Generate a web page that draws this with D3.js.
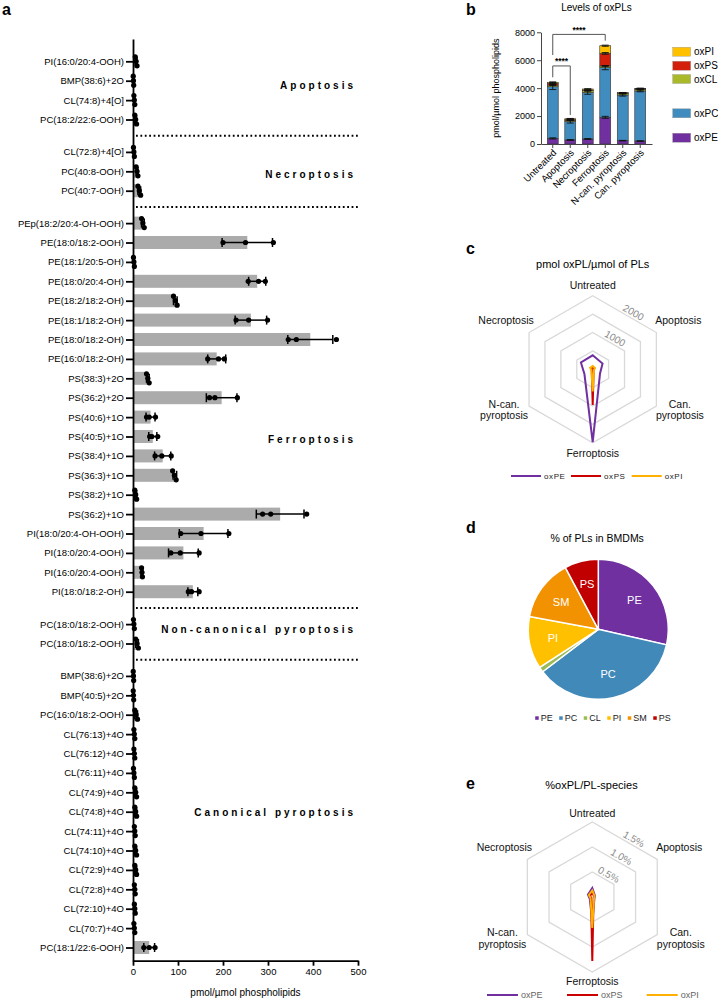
<!DOCTYPE html>
<html><head><meta charset="utf-8">
<script src="https://cdn.jsdelivr.net/npm/d3@7"></script>
<style>
body{margin:0;background:#fff;}
svg{display:block;}
</style></head><body>
<svg id="fig" width="718" height="999"></svg>
<script>
// ================= DATA =================
// Panel a
const groupsA = ["Apoptosis","Necroptosis","Ferroptosis","Non-canonical pyroptosis","Canonical pyroptosis"];
const groupSizesA = [4,3,20,2,15];
const labelsA = [
 "PI(16:0/20:4-OOH)","BMP(38:6)+2O","CL(74:8)+4[O]","PC(18:2/22:6-OOH)",
 "CL(72:8)+4[O]","PC(40:8-OOH)","PC(40:7-OOH)",
 "PEp(18:2/20:4-OH-OOH)","PE(18:0/18:2-OOH)","PE(18:1/20:5-OH)","PE(18:0/20:4-OH)","PE(18:2/18:2-OH)",
 "PE(18:1/18:2-OH)","PE(18:0/18:2-OH)","PE(16:0/18:2-OH)","PS(38:3)+2O","PS(36:2)+2O","PS(40:6)+1O",
 "PS(40:5)+1O","PS(38:4)+1O","PS(36:3)+1O","PS(38:2)+1O","PS(36:2)+1O","PI(18:0/20:4-OH-OOH)",
 "PI(18:0/20:4-OOH)","PI(16:0/20:4-OOH)","PI(18:0/18:2-OH)",
 "PC(18:0/18:2-OOH)","PC(18:0/18:2-OOH)",
 "BMP(38:6)+2O","BMP(40:5)+2O","PC(16:0/18:2-OOH)","CL(76:13)+4O","CL(76:12)+4O","CL(76:11)+4O",
 "CL(74:9)+4O","CL(74:8)+4O","CL(74:11)+4O","CL(74:10)+4O","CL(72:9)+4O","CL(72:8)+4O","CL(72:10)+4O",
 "CL(70:7)+4O","PC(18:1/22:6-OOH)"
];
const meansA = [7,1,3,6, 2,9,14, 22,254,2,276,94,262,394,186,33,197,39,44,66,93,6,327,157,112,20,133, 2,9,
 1,1,7,3,3,2,6,6,4,6,6,4,4,3,36];
const sdsA = [2,0.5,1,2, 1,2,3, 3,56,1,19,4,35,50,20,3,34,10,9,18,4,2,53,54,33,2,11, 1,3,
 0.5,0.5,3,1,1,1,2,2,1,2,2,1,1,1,12];
const pointsA = [
 [5,7,9],[0.5,1,1.5],[2,3,4],[4,6,8],
 [1,2,3],[7,9,11],[11,14,17],
 [19,22,25],[200,250,312],[1,2,3],[256,279,294],[90,94,98],[229,257,299],[345,363,452],[166,190,203],
 [30,33,36],[170,182,232],[30,36,50],[37,42,55],[49,64,85],[88,92,96],[4,6,8],[288,306,386],
 [106,151,213],[84,105,147],[19,20,21],[123,130,147],
 [1,2,3],[6,9,12],
 [0.5,1,1.5],[0.5,1,1.5],[4,7,10],[2,3,4],[2,3,4],[1,2,3],[4,6,8],[4,6,8],[3,4,5],[4,6,8],[4,6,8],
 [3,4,5],[3,4,5],[2,3,4],[24,36,49]
];
const ticksA = [0,100,200,300,400,500];

// Panel b
const catsB = ["Untreated","Apoptosis","Necroptosis","Ferroptosis","N-can. pyroptosis","Can. pyroptosis"];
const keysB = ["oxPE","oxPC","oxCL","oxPS","oxPI"];
const oxPE_B = [400, 290, 360, 1910, 240, 215];
const oxPC_B = [3700, 1310, 3320, 3560, 3270, 3585];
const oxCL_B = [120, 100, 140, 120, 100, 120];
const oxPS_B = [120, 50, 40, 900, 30, 30];
const oxPI_B = [80, 60, 80, 550, 40, 40];
const sdPE_B = [40, 30, 30, 70, 20, 20];
const sdPC_B = [200, 100, 120, 150, 80, 60];
const sdCL_B = [30, 20, 30, 30, 20, 20];
const sdPS_B = [40, 20, 10, 60, 10, 10];
const sdPI_B = [30, 20, 20, 40, 10, 10];
const ticksB = [0,2000,4000,6000,8000];
const sigB = [
  {a:"Untreated", b:"Ferroptosis", level:7850, legA:6370, legB:7400, label:"****"},
  {a:"Untreated", b:"Apoptosis", level:5590, legA:4780, legB:2080, label:"****"}
];

// Panel c (radar order: Untreated, Apoptosis, Can. pyroptosis, Ferroptosis, N-can. pyroptosis, Necroptosis)
const catsRadar = [["Untreated"],["Apoptosis"],["Can.","pyroptosis"],["Ferroptosis"],["N-can.","pyroptosis"],["Necroptosis"]];
const oxPE_C = [380, 310, 230, 1980, 260, 370];
const oxPS_C = [60, 50, 30, 970, 30, 40];
const oxPI_C = [90, 70, 40, 600, 40, 80];
const ringsC = [500, 1000, 1500, 2000];
const ringLabelsC = [1000, 2000];

// Panel d
const catsD = ["PE","PC","CL","PI","SM","PS"];
const pctD = [28.6, 36.1, 1.2, 12.1, 14.3, 7.8];

// Panel e
const oxPE_E = [0.18, 0.06, 0.05, 0.50, 0.06, 0.10];
const oxPS_E = [0.08, 0.04, 0.03, 1.28, 0.03, 0.05];
const oxPI_E = [0.13, 0.05, 0.04, 0.62, 0.04, 0.08];
const ringsE = [0.5, 1.0, 1.5];
const ringLabelsE = [0.5, 1.0, 1.5];

// ================= STYLE =================
const FONT = "'Liberation Sans', Arial, Helvetica, sans-serif";
const colB = {oxPE:"#7030a0", oxPC:"#418cbf", oxCL:"#a9b92a", oxPS:"#d2200c", oxPI:"#ffc000"};
const colD = {PE:"#7030a0", PC:"#4189b9", CL:"#9bbb59", PI:"#ffc000", SM:"#f39200", PS:"#c00000"};
const colR = {oxPE:"#7030a0", oxPS:"#cc0000", oxPI:"#ffb000"};

const svg = d3.select("#fig").style("font-family", FONT);
svg.append("rect").attr("width",718).attr("height",999).attr("fill","#fff");

// panel letters
[["a",2,15],["b",466,15],["c",466,254],["d",466,533],["e",466,789]].forEach(([t,x,y])=>
  svg.append("text").attr("x",x).attr("y",y).style("font-size","16px").attr("font-weight","bold").text(t));

function fixAxis(ax, fs, col, sw){
  ax.attr("font-family",null).attr("font-size",null);
  ax.selectAll("path,line").attr("stroke",col).attr("stroke-width",sw);
  ax.selectAll("text").attr("fill","#000").style("font-size",fs+"px").style("font-family",FONT);
}

// ================= PANEL a =================
(function(){
  const gapA = 0.67;
  const slots = []; let idx = 0;
  groupSizesA.forEach((n,g)=>{ for(let k=0;k<n;k++){ slots.push(idx + g*gapA); idx++; } });
  const last = slots[slots.length-1];
  const yA = d3.scaleLinear().domain([-1.15, last+0.68]).range([39, 960.7]);
  const xA = d3.scaleLinear().domain([0,500]).range([133, 358]);
  const g = svg.append("g");
  const bh = 13;

  g.selectAll("rect.bar").data(meansA).join("rect")
    .attr("x", xA(0)).attr("y",(d,i)=>yA(slots[i])-bh/2)
    .attr("width",d=>xA(d)-xA(0)).attr("height",bh).attr("fill","#ababab");

  meansA.forEach((m,i)=>{
    const y = yA(slots[i]);
    const x0 = xA(Math.max(0,m-sdsA[i])), x1 = xA(m+sdsA[i]);
    g.append("line").attr("x1",x0).attr("x2",x1).attr("y1",y).attr("y2",y).attr("stroke","#000").attr("stroke-width",1.5);
    [x0,x1].forEach(x=>g.append("line").attr("x1",x).attr("x2",x).attr("y1",y-4.5).attr("y2",y+4.5).attr("stroke","#000").attr("stroke-width",1.5));
    const pts = pointsA[i];
    const px = pts.map(v=>xA(v));
    const clustered = d3.max(px)-d3.min(px) < 6;
    pts.forEach((v,k)=>{
      const dy = clustered ? (k-1)*4.5 : 0;
      g.append("circle").attr("cx",xA(v)).attr("cy",y+dy).attr("r",2.6).attr("fill","#000");
    });
  });

  let start = 0;
  groupSizesA.forEach((n,gi)=>{
    if(gi < groupSizesA.length-1){
      const s = (slots[start+n-1] + slots[start+n])/2;
      g.append("line").attr("x1",xA(0)+3).attr("x2",xA(500)).attr("y1",yA(s)).attr("y2",yA(s))
        .attr("stroke","#000").attr("stroke-width",2).attr("stroke-dasharray","1.8,2.6");
    }
    start += n;
  });

  const labelShift = [-0.23, 0.14, 1.64, -0.2, 0.03];
  start = 0;
  groupSizesA.forEach((n,gi)=>{
    const mid = (slots[start] + slots[start+n-1])/2 + labelShift[gi];
    g.append("text").attr("x",xA(500)-2).attr("y",yA(mid)).attr("dy","0.35em")
      .attr("text-anchor","end").style("font-size","10px").attr("font-weight","bold")
      .attr("letter-spacing","3px").text(groupsA[gi]);
    start += n;
  });

  const ay = g.append("g").attr("transform",`translate(${xA(0)},0)`)
    .call(d3.axisLeft(yA).tickValues(slots).tickFormat((d,i)=>labelsA[i]).tickSize(7).tickSizeOuter(0).tickPadding(2));
  fixAxis(ay, 9.5, "#000", 1.8);

  const ax = g.append("g").attr("transform",`translate(0,${yA(last+0.68)})`)
    .call(d3.axisBottom(xA).tickValues(ticksA).tickSize(5).tickSizeOuter(0).tickPadding(3));
  fixAxis(ax, 9.5, "#000", 1.8);
  g.append("text").attr("x",(xA(0)+xA(500))/2).attr("y",996).attr("text-anchor","middle")
    .style("font-size","10px").text("pmol/µmol phospholipids");
})();

// ================= PANEL b =================
(function(){
  const g = svg.append("g");
  const tableB = catsB.map((c,i)=>({cat:c, oxPE:oxPE_B[i], oxPC:oxPC_B[i], oxCL:oxCL_B[i], oxPS:oxPS_B[i], oxPI:oxPI_B[i]}));
  const sdB = {oxPE:sdPE_B, oxPC:sdPC_B, oxCL:sdCL_B, oxPS:sdPS_B, oxPI:sdPI_B};
  const stackB = d3.stack().keys(keysB)(tableB);
  const xB = d3.scaleBand().domain(catsB).range([541, 652]).paddingInner(0.375).paddingOuter(0.36);
  const yB = d3.scaleLinear().domain([0,8000]).range([144, 32.3]);
  const bw = xB.bandwidth();

  stackB.forEach(layer=>{
    g.selectAll(null).data(layer).join("rect")
      .attr("x",d=>xB(d.data.cat)).attr("width",bw)
      .attr("y",d=>yB(d[1])).attr("height",d=>yB(d[0])-yB(d[1]))
      .attr("fill",colB[layer.key]).attr("stroke","#333").attr("stroke-width",0.6);
  });
  stackB.forEach(layer=>{
    layer.forEach((d,i)=>{
      const xc = xB(d.data.cat)+bw/2, sd = sdB[layer.key][i];
      const y0 = yB(d[1]-sd), y1 = yB(d[1]+sd);
      g.append("line").attr("x1",xc).attr("x2",xc).attr("y1",y0).attr("y2",y1).attr("stroke","#111").attr("stroke-width",0.9);
      [y0,y1].forEach(y=>g.append("line").attr("x1",xc-3.5).attr("x2",xc+3.5).attr("y1",y).attr("y2",y).attr("stroke","#111").attr("stroke-width",0.9));
    });
  });

  const ay = g.append("g").attr("transform","translate(541,0)")
    .call(d3.axisLeft(yB).tickValues(ticksB).tickFormat(d3.format("d")).tickSize(4).tickSizeOuter(0).tickPadding(2));
  fixAxis(ay, 9, "#444", 1);
  const ax = g.append("g").attr("transform","translate(0,144)")
    .call(d3.axisBottom(xB).tickSize(4).tickSizeOuter(0).tickFormat(""));
  ax.selectAll("path,line").attr("stroke","#444").attr("stroke-width",1);
  catsB.forEach(c=>{
    const xc = xB(c)+bw/2;
    g.append("text").attr("transform",`translate(${xc+2},${151}) rotate(-45)`)
      .attr("text-anchor","end").attr("dy","0.35em").style("font-size","9.5px").text(c);
  });
  g.append("text").attr("transform",`translate(499,${(yB(0)+yB(8000))/2}) rotate(-90)`)
    .attr("text-anchor","middle").style("font-size","9px").text("pmol/µmol phospholipids");
  g.append("text").attr("x",596.5).attr("y",11.3).attr("text-anchor","middle").style("font-size","10px").text("Levels of oxPLs");

  sigB.forEach(s=>{
    const xa = xB(s.a)+bw/2, xb = xB(s.b)+bw/2;
    g.append("path").attr("d",`M${xa},${yB(s.legA)}V${yB(s.level)}H${xb}V${yB(s.legB)}`)
      .attr("fill","none").attr("stroke","#555").attr("stroke-width",1);
    g.append("text").attr("x",(xa+xb)/2).attr("y",yB(s.level)-1.5).attr("text-anchor","middle")
      .style("font-size","8.5px").attr("font-weight","bold").text(s.label);
  });

  const legOrder = ["oxPI","oxPS","oxCL","oxPC","oxPE"];
  const legY = [51.7, 65.7, 79, 113.3, 137.7];
  legOrder.forEach((k,i)=>{
    g.append("rect").attr("x",672.7).attr("y",legY[i]-4.5).attr("width",18).attr("height",9)
      .attr("fill",colB[k]).attr("stroke","#999").attr("stroke-width",0.4);
    g.append("text").attr("x",694).attr("y",legY[i]).attr("dy","0.35em").style("font-size","10px").text(k);
  });
})();

// ================= RADAR helper =================
function drawRadar(cfg){
  const g = svg.append("g").attr("transform",`translate(${cfg.cx},${cfg.cy})`);
  const r = d3.scaleLinear().domain([0,cfg.max]).range([0,cfg.R]);
  const line = d3.lineRadial().angle((d,i)=>i*Math.PI/3).radius(d=>r(d)).curve(d3.curveLinearClosed);
  cfg.rings.forEach(v=>{
    g.append("path").attr("d",line(d3.range(6).map(()=>v))).attr("fill","none")
      .attr("stroke","#d9d9d9").attr("stroke-width",1.3);
  });
  cfg.ringLabels.forEach(v=>{
    const rr = r(v);
    const mx = rr*Math.sin(Math.PI/3)/2, my = -(rr + rr*Math.cos(Math.PI/3))/2;
    const along = 0.08*rr + 1, out = 6;
    const x = mx + along*Math.cos(Math.PI/6) + out*0.5;
    const y = my + along*0.5 - out*Math.cos(Math.PI/6);
    g.append("text").attr("transform",`translate(${x},${y}) rotate(30)`).attr("text-anchor","middle")
      .attr("dy","0.35em").style("font-size","10px").attr("fill","#8a8a8a").text(cfg.fmt(v));
  });
  cfg.series.forEach(s=>{
    g.append("path").attr("d",line(s.values)).attr("fill","none").attr("stroke",s.color)
      .attr("stroke-width",2).attr("stroke-linejoin","miter");
  });
  const R = cfg.R, c30 = Math.cos(Math.PI/6);
  const pos = [
    [0, -R - cfg.topOff],
    [R*c30 + 22, -R/2 - 12.5],
    [R*c30 + 23.5, R/2 + 4],
    [0, R + cfg.botOff],
    [-(R*c30 + 25), R/2 + 4],
    [-(R*c30 + 23), -R/2 - 12.5]
  ];
  catsRadar.forEach((lines,i)=>{
    const [x,y] = pos[i];
    const t = g.append("text").attr("text-anchor","middle").style("font-size","10.5px").attr("fill","#111");
    lines.forEach((ln,k)=>{
      t.append("tspan").attr("x",x).attr("y", y + (k - (lines.length-1)/2)*11.5).attr("dy","0.35em").text(ln);
    });
  });
}

function drawLineLegend(items, y, starts, len, fs, color, ls){
  items.forEach((it,i)=>{
    svg.append("line").attr("x1",starts[i]).attr("x2",starts[i]+len).attr("y1",y).attr("y2",y)
      .attr("stroke",it.color).attr("stroke-width",2);
    svg.append("text").attr("x",starts[i]+len+3).attr("y",y).attr("dy","0.35em").style("font-size",fs+"px")
      .attr("fill",color).attr("letter-spacing",ls).text(it.name);
  });
}

// ================= PANEL c =================
svg.append("text").attr("x",592.7).attr("y",268).attr("text-anchor","middle").style("font-size","11px").text("pmol oxPL/µmol of PLs");
drawRadar({cx:592.7, cy:369.3, R:73.5, max:2000, rings:ringsC, ringLabels:ringLabelsC, fmt:d=>String(d),
  topOff:10.3, botOff:10.5,
  series:[{values:oxPE_C,color:colR.oxPE},{values:oxPS_C,color:colR.oxPS},{values:oxPI_C,color:colR.oxPI}]});
drawLineLegend([{name:"oxPE",color:colR.oxPE},{name:"oxPS",color:colR.oxPS},{name:"oxPI",color:colR.oxPI}],
  476, [511,571,631.7], 30, 8, "#222", "0.6px");

// ================= PANEL d =================
(function(){
  const g = svg.append("g").attr("transform","translate(598.3,629.3)");
  svg.append("text").attr("x",597.2).attr("y",541.5).attr("text-anchor","middle").style("font-size","10.5px").text("% of PLs in BMDMs");
  const pie = d3.pie().sort(null).value(d=>d)(pctD);
  const R = 70;
  const arc = d3.arc().innerRadius(0).outerRadius(R);
  const labArc = d3.arc().innerRadius(R*0.66).outerRadius(R*0.66);
  g.selectAll("path").data(pie).join("path").attr("d",arc)
    .attr("fill",(d,i)=>colD[catsD[i]]).attr("stroke","#fff").attr("stroke-width",1.5);
  pie.forEach((d,i)=>{
    if(pctD[i] < 3) return;
    const [x,y] = labArc.centroid(d);
    g.append("text").attr("x",x).attr("y",y).attr("dy","0.35em").attr("text-anchor","middle")
      .style("font-size","11px").attr("fill","#fff").text(catsD[i]);
  });
  const lg = svg.append("g");
  let x = 0;
  catsD.forEach((c,i)=>{
    const it = lg.append("g");
    it.append("rect").attr("x",x).attr("y",-2).attr("width",3.5).attr("height",3.5).attr("fill",colD[c]);
    const t = it.append("text").attr("x",x+5.5).attr("y",0).attr("dy","0.35em").style("font-size","9px").attr("fill","#222").text(c);
    x += 5.5 + t.node().getComputedTextLength() + 6.5;
  });
  const total = x - 6.5;
  lg.attr("transform",`translate(${603 - total/2},718.3)`);
})();

// ================= PANEL e =================
svg.append("text").attr("x",591.5).attr("y",788.5).attr("text-anchor","middle").style("font-size","11px").text("%oxPL/PL-species");
drawRadar({cx:592.3, cy:897, R:75, max:1.5, rings:ringsE, ringLabels:ringLabelsE, fmt:d=>d.toFixed(1)+"%",
  topOff:9, botOff:9,
  series:[{values:oxPE_E,color:colR.oxPE},{values:oxPS_E,color:colR.oxPS},{values:oxPI_E,color:colR.oxPI}]});
drawLineLegend([{name:"oxPE",color:colR.oxPE},{name:"oxPS",color:colR.oxPS},{name:"oxPI",color:colR.oxPI}],
  995, [487,567,646.7], 31, 9, "#666", "0px");
</script>
</body></html>
